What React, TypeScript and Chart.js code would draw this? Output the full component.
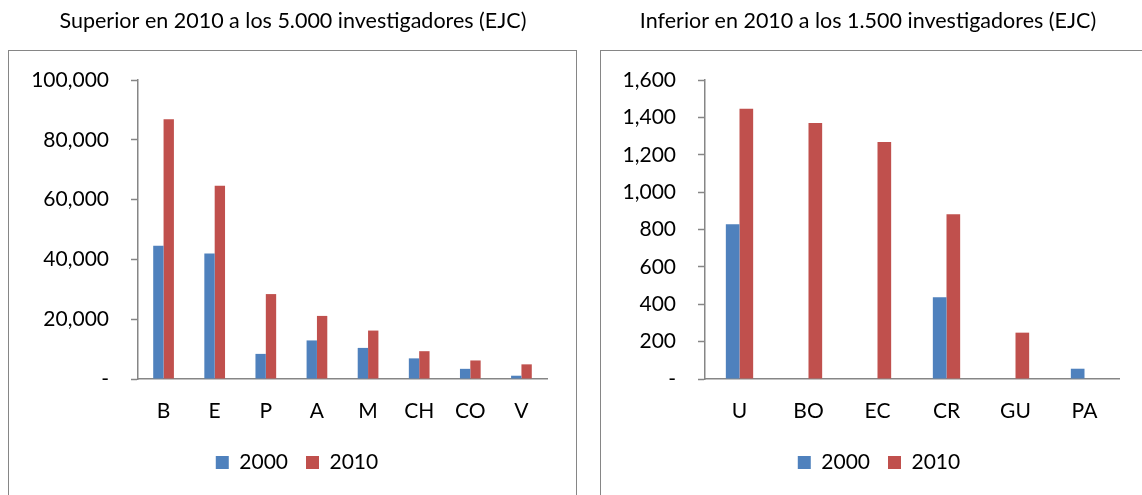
import React, { useEffect, useRef } from 'react';
import { Chart, registerables } from 'chart.js';

Chart.register(...registerables);

const seriesLabels = ['2000', '2010'];
const seriesColors = ['#4F81BD', '#C0504D'];

const leftTitle = 'Superior en 2010 a los 5.000 investigadores (EJC)';
const leftCategories = ['B', 'E', 'P', 'A', 'M', 'CH', 'CO', 'V'];
const left2000 = [44600, 42000, 8400, 12900, 10400, 6900, 3400, 1100];
const left2010 = [86900, 64600, 28400, 21100, 16200, 9300, 6200, 4900];
const leftMax = 100000;
const leftStep = 20000;

const rightTitle = 'Inferior en 2010 a los 1.500 investigadores (EJC)';
const rightCategories = ['U', 'BO', 'EC', 'CR', 'GU', 'PA'];
const right2000 = [828, null, null, 437, null, 55];
const right2010 = [1446, 1370, 1268, 881, 248, null];
const rightMax = 1600;
const rightStep = 200;

const FONT = 'Lato, "Open Sans", sans-serif';
const AXIS = '#868686';
const TITLE_SIZE = 21.5;
const TEXT_SIZE = 21;

type PanelProps = {
  left: number;
  width: number;
  title: string;
  titleX: number;
  categories: string[];
  s2000: (number | null)[];
  s2010: (number | null)[];
  max: number;
  step: number;
  padLeft: number;
  padRight: number;
  yWidth: number;
  y2Width: number;
  catPct: number;
};

function Panel(p: PanelProps) {
  const ref = useRef<HTMLCanvasElement>(null);
  useEffect(() => {
    if (!ref.current) return;
    const titlePlugin = {
      id: 'fixedTitle',
      afterDraw(chart: any) {
        const ctx = chart.ctx;
        ctx.save();
        ctx.fillStyle = '#000';
        ctx.font = `${TITLE_SIZE}px ${FONT}`;
        ctx.textAlign = 'center';
        ctx.textBaseline = 'middle';
        ctx.fillText(p.title, p.titleX, 21);
        ctx.restore();
      },
    };
    const chart = new Chart(ref.current, {
      type: 'bar',
      data: {
        labels: p.categories,
        datasets: [
          { label: seriesLabels[0], data: p.s2000, backgroundColor: seriesColors[0], yAxisID: 'y' },
          { label: seriesLabels[1], data: p.s2010, backgroundColor: seriesColors[1], yAxisID: 'y' },
        ],
      },
      plugins: [titlePlugin],
      options: {
        animation: false,
        responsive: false,
        maintainAspectRatio: false,
        layout: { padding: { left: p.padLeft, right: p.padRight, top: 80, bottom: 12 } },
        datasets: { bar: { categoryPercentage: p.catPct, barPercentage: 1 } },
        plugins: {
          title: { display: false },
          legend: {
            position: 'bottom',
            labels: {
              color: '#000',
              font: { family: FONT, size: TEXT_SIZE },
              boxWidth: 13,
              boxHeight: 13,
              padding: 18,
            },
          },
          tooltip: { enabled: false },
        },
        scales: {
          x: {
            grid: { display: true, drawOnChartArea: false, drawTicks: false },
            border: { display: true, color: AXIS, width: 1.5 },
            ticks: { color: '#000', font: { family: FONT, size: TEXT_SIZE }, padding: 20 },
            afterFit: (s: any) => { s.height = 55; },
          },
          y: {
            position: 'left',
            min: 0,
            max: p.max,
            grid: { display: true, drawOnChartArea: false, drawTicks: true, tickLength: 7, tickColor: AXIS, tickWidth: 1.5 },
            border: { display: true, color: AXIS, width: 1.5 },
            ticks: {
              stepSize: p.step,
              color: '#000',
              font: { family: FONT, size: TEXT_SIZE },
              padding: 22,
              callback: (v: any) => (Number(v) === 0 ? '-' : Number(v).toLocaleString('en-US')),
            },
            afterFit: (s: any) => { s.width = p.yWidth; },
          },
          y2: {
            position: 'right',
            display: true,
            grid: { display: false },
            border: { display: false },
            ticks: { display: false },
            afterFit: (s: any) => { s.width = p.y2Width; },
          },
        },
      } as any,
    });
    return () => chart.destroy();
  }, []);
  return (
    <canvas
      ref={ref}
      width={p.width}
      height={495}
      style={{ position: 'absolute', left: p.left, top: 0, width: p.width, height: 495 }}
    />
  );
}

export default function App() {
  return (
    <div style={{ position: 'fixed', left: 0, top: 0, width: 1142, height: 495, overflow: 'hidden', background: '#fff' }}>
      <div style={{ position: 'absolute', left: 8, top: 50, width: 569, height: 480, border: '1.5px solid ' + AXIS, boxSizing: 'border-box' }} />
      <div style={{ position: 'absolute', left: 600, top: 50, width: 600, height: 480, border: '1.5px solid ' + AXIS, boxSizing: 'border-box' }} />
      <Panel
        left={0}
        width={580}
        title={leftTitle}
        titleX={293}
        categories={leftCategories}
        s2000={left2000}
        s2010={left2010}
        max={leftMax}
        step={leftStep}
        padLeft={27}
        padRight={13}
        yWidth={111}
        y2Width={20}
        catPct={0.405}
      />
      <Panel
        left={580}
        width={600}
        title={rightTitle}
        titleX={288}
        categories={rightCategories}
        s2000={right2000}
        s2010={right2010}
        max={rightMax}
        step={rightStep}
        padLeft={30}
        padRight={32}
        yWidth={95}
        y2Width={29}
        catPct={0.396}
      />
    </div>
  );
}
